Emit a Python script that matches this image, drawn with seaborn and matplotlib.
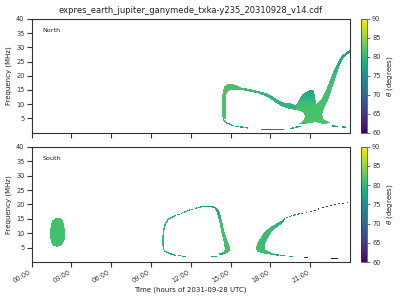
import numpy as np
import matplotlib
matplotlib.use("Agg")
import matplotlib.pyplot as plt
from matplotlib.path import Path
import seaborn as sns

# ---------------- data ----------------
TITLE = "expres_earth_jupiter_ganymede_txka-y235_20310928_v14.cdf"
PANELS = ["North", "South"]
TIME_TICKS = [0, 3, 6, 9, 12, 15, 18, 21]
TIME_LABELS = ["00:00", "03:00", "06:00", "09:00", "12:00", "15:00", "18:00", "21:00"]
FREQ_TICKS = [5, 10, 15, 20, 25, 30, 35, 40]
THETA_TICKS = [60, 65, 70, 75, 80, 85, 90]
XLABEL = "Time (hours of 2031-09-28 UTC)"
YLABEL = "Frequency (MHz)"
CLABEL = r"$\theta$ (degrees)"

# North: arc (time h, freq MHz)
N_ARC_T = [14.38, 14.36, 14.38, 14.5, 14.73, 15.1, 15.48, 15.71, 16.31, 17.07, 17.6, 17.97, 18.43, 18.88, 19.48, 19.95,
           19.95, 19.48, 18.88, 18.43, 17.97, 17.6, 17.07, 16.31, 15.71, 15.33, 14.95, 14.77, 14.65, 14.62]
N_ARC_F = [5.0, 10.0, 14.3, 16.1, 17.0, 17.1, 16.6, 15.9, 15.4, 14.6, 14.0, 13.3, 11.9, 10.7, 10.3, 9.7,
           8.0, 8.3, 9.2, 10.4, 12.0, 12.9, 13.8, 14.5, 15.0, 15.0, 14.8, 14.3, 13.3, 5.0]
N_ARC_THETA_T = [14.4, 15.5, 17.5, 19.5]
N_ARC_THETA = [81.5, 81.0, 79.5, 79.5]

# North: main blob + rising branch
N_BLOB_T = [19.93, 20.5, 21.0, 21.48, 21.67, 21.9, 22.2, 22.5, 22.8, 23.1, 23.4, 23.7, 24.0, 24.0, 23.74, 23.48, 23.21,
            22.95, 22.65, 22.35, 22.04, 21.9, 21.97, 22.28, 22.65, 21.9, 21.37, 20.61, 20.08, 20.45, 20.61, 20.54,
            20.23, 19.93]
N_BLOB_F = [9.7, 10.5, 10.3, 10.1, 10.8, 12.2, 15.0, 18.5, 22.1, 24.9, 27.0, 28.4, 29.3, 28.2, 27.3, 25.9, 23.5,
            19.9, 15.7, 11.5, 8.7, 6.6, 4.8, 4.1, 3.4, 3.2, 3.8, 3.2, 3.1, 4.1, 5.5, 6.9,
            7.6, 8.0]
N_BLOB_THETA_F = [3, 18, 24, 29]
N_BLOB_THETA = [81.5, 81.0, 79.0, 77.0]

# North: hump on the blob
N_HUMP_T = [19.9, 20.16, 20.38, 20.69, 20.99, 21.22, 21.33, 21.4, 21.48, 21.0, 20.5, 19.93]
N_HUMP_F = [9.6, 11.5, 13.3, 14.3, 15.0, 14.8, 13.6, 11.5, 10.1, 9.5, 9.0, 8.8]
N_HUMP_THETA_F = [9.5, 15]
N_HUMP_THETA = [81.0, 77.5]

# North: continuous thin tail below the arc
N_TAIL_T = [14.42, 14.5, 14.7, 14.95, 15.2]
N_TAIL_F = [5.2, 4.2, 3.5, 3.0, 2.6]
N_TAIL_THETA = [80.5, 80, 78.5, 77, 77]

# North: short dashes (t0, t1, f0, f1, theta)
N_DASH_T0 = [15.33, 15.71, 16.09, 17.29, 19.48, 19.86, 22.65, 23.40]
N_DASH_T1 = [15.56, 15.94, 16.31, 18.95, 19.78, 20.23, 23.02, 23.63]
N_DASH_F0 = [2.36, 2.10, 1.80, 1.30, 1.65, 2.00, 2.46, 2.10]
N_DASH_F1 = [2.30, 2.05, 1.75, 1.30, 1.75, 2.20, 2.35, 2.05]
N_DASH_THETA = [77, 77, 77, 71.5, 77, 77.5, 77, 77]

# South: oval near 02:00
S_OVAL_T = [1.38, 1.40, 1.55, 1.8, 2.2, 2.35, 2.42, 2.5, 2.5, 2.4, 2.2, 1.9, 1.6, 1.42]
S_OVAL_F = [8.5, 12.5, 14.5, 15.3, 15.3, 14.3, 12.3, 11.5, 8.5, 7.0, 5.8, 5.3, 5.6, 7.0]
S_OVAL_THETA = 81.0

# South: loop, thick right side
S_LOOPR_T = [13.6, 13.95, 14.2, 14.35, 14.55, 14.75, 14.95, 14.95, 14.75, 14.4, 14.05, 14.1, 14.45, 14.55, 14.45,
             14.3, 14.15, 14.0, 13.8, 13.6]
S_LOOPR_F = [19.25, 18.9, 17.0, 14.0, 10.0, 7.5, 5.0, 4.0, 3.1, 2.6, 2.3, 2.9, 3.6, 4.5, 7.5,
             10.0, 13.5, 16.5, 18.6, 18.9]
S_LOOPR_THETA_F = [2, 4, 14, 18, 19.5]
S_LOOPR_THETA = [78, 81, 81, 78, 76.5]

# South: loop, thin left side (solid / dotted / solid)
S_LOOPL_T = [9.92, 9.88, 9.92, 10.05, 10.3, 10.7]
S_LOOPL_F = [4.6, 7.0, 10.5, 13.2, 14.9, 15.9]
S_LOOPL_THETA = [80.5, 80.5, 80, 79, 78, 77]
S_LOOPTOP_T = [10.7, 11.3, 11.9, 12.5, 12.65]
S_LOOPTOP_F = [15.9, 17.0, 18.1, 18.9, 19.05]
S_LOOPTOP_THETA = [77, 76.5, 76.5, 76.5, 76.5]
S_LOOPCAP_T = [12.65, 12.9, 13.4, 13.7]
S_LOOPCAP_F = [19.05, 19.3, 19.4, 19.2]
S_LOOPCAP_THETA = [76.5, 76.5, 76.5, 76.5]
S_LOOPBOT_T = [9.92, 10.0, 10.3, 10.6, 10.8]
S_LOOPBOT_F = [4.6, 3.8, 3.1, 2.6, 2.4]
S_LOOPBOT_THETA = [80.5, 80, 78, 77, 77]

# South: "<" shaped band after 17:00
S_WEDGE_T = [16.92, 16.95, 17.2, 17.6, 18.1, 18.6, 19.0, 19.05, 18.7, 18.3, 17.9, 17.65, 17.55, 17.6, 17.9, 18.25,
             18.2, 17.8, 17.3, 17.0]
S_WEDGE_F = [4.3, 5.8, 8.2, 10.8, 12.5, 13.8, 14.8, 14.2, 12.8, 11.5, 9.3, 7.0, 5.5, 4.4, 3.5, 2.9,
             2.5, 2.7, 3.2, 3.6]
S_WEDGE_THETA_T = [17.0, 18.5, 19.1]
S_WEDGE_THETA = [81, 80, 78]

# South: thin continuation of the wedge (teal dashes then purple dots)
S_ARM_T = [18.9, 19.23, 19.73, 20.36]
S_ARM_F = [14.5, 15.5, 16.3, 16.9]
S_ARM_THETA = [77, 75, 73, 72]
S_DOTS_T = [20.36, 20.99, 21.74, 22.37, 23.0, 23.25, 23.88, 24.0]
S_DOTS_F = [16.9, 17.4, 18.6, 19.4, 20.1, 20.3, 20.7, 20.75]
S_DOTS_THETA = [70, 65, 64.5, 64, 64, 65, 67, 67]

# South: short dashes (t0, t1, f0, f1, theta)
S_DASH_T0 = [11.05, 11.39, 13.57, 18.20, 18.73, 19.43, 20.60, 22.62, 22.85]
S_DASH_T1 = [11.23, 11.56, 13.95, 18.60, 19.03, 19.68, 20.78, 22.78, 23.05]
S_DASH_F0 = [2.18, 1.94, 1.94, 2.50, 2.20, 1.95, 1.50, 1.15, 1.15]
S_DASH_F1 = [2.15, 1.90, 2.00, 2.45, 2.15, 1.90, 1.50, 1.15, 1.15]
S_DASH_THETA = [77, 77, 77, 77, 77, 77, 64, 61, 61]

# ---------------- raster grid ----------------
NT, NF = 318, 115
T_EDGES = np.linspace(0, 24, NT + 1)
F_EDGES = np.linspace(0, 40, NF + 1)
TC = 0.5 * (T_EDGES[:-1] + T_EDGES[1:])
FC = 0.5 * (F_EDGES[:-1] + F_EDGES[1:])
TT, FF = np.meshgrid(TC, FC)
PX_T, PX_F = NT / 24.0, NF / 40.0   # pixels per hour / per MHz


def paint_polygon(grid, t, f, knots, vals, axis="f"):
    path = Path(np.column_stack([t, f]))
    inside = path.contains_points(np.column_stack([TT.ravel(), FF.ravel()])).reshape(TT.shape)
    coord = FF if axis == "f" else TT
    th = np.interp(coord, knots, vals)
    grid[inside] = th[inside]


def paint_line(grid, t, f, theta, width=1.3, dash=None):
    X, Y = TT * PX_T, FF * PX_F
    px, py = np.asarray(t) * PX_T, np.asarray(f) * PX_F
    best = np.full(TT.shape, np.inf)
    s_best = np.zeros(TT.shape)
    cum = 0.0
    for i in range(len(px) - 1):
        dx, dy = px[i + 1] - px[i], py[i + 1] - py[i]
        L = np.hypot(dx, dy)
        if L == 0:
            continue
        u = np.clip(((X - px[i]) * dx + (Y - py[i]) * dy) / (L * L), 0, 1)
        d = np.hypot(X - (px[i] + u * dx), Y - (py[i] + u * dy))
        m = d < best
        best[m] = d[m]
        s_best[m] = cum + u[m] * L
        cum += L
    mask = best <= width / 2
    if dash is not None:
        on, off = dash
        mask &= (s_best % (on + off)) < on
    th = np.interp(TT, t, theta)
    grid[mask] = th[mask]


def paint_dashes(grid, t0, t1, f0, f1, theta, width=1.2):
    for a, b, c, d, th in zip(t0, t1, f0, f1, theta):
        paint_line(grid, [a, b], [c, d], [th, th], width=width)


north = np.full(TT.shape, np.nan)
paint_polygon(north, N_ARC_T, N_ARC_F, N_ARC_THETA_T, N_ARC_THETA, axis="t")
paint_polygon(north, N_BLOB_T, N_BLOB_F, N_BLOB_THETA_F, N_BLOB_THETA, axis="f")
paint_polygon(north, N_HUMP_T, N_HUMP_F, N_HUMP_THETA_F, N_HUMP_THETA, axis="f")
paint_line(north, N_TAIL_T, N_TAIL_F, N_TAIL_THETA)
paint_dashes(north, N_DASH_T0, N_DASH_T1, N_DASH_F0, N_DASH_F1, N_DASH_THETA)

south = np.full(TT.shape, np.nan)
paint_polygon(south, S_OVAL_T, S_OVAL_F, [0, 40], [S_OVAL_THETA, S_OVAL_THETA])
paint_polygon(south, S_LOOPR_T, S_LOOPR_F, S_LOOPR_THETA_F, S_LOOPR_THETA, axis="f")
paint_line(south, S_LOOPL_T, S_LOOPL_F, S_LOOPL_THETA, width=1.5)
paint_line(south, S_LOOPTOP_T, S_LOOPTOP_F, S_LOOPTOP_THETA, width=1.2, dash=(2.5, 1.2))
paint_line(south, S_LOOPCAP_T, S_LOOPCAP_F, S_LOOPCAP_THETA, width=1.2)
paint_line(south, S_LOOPBOT_T, S_LOOPBOT_F, S_LOOPBOT_THETA, width=1.3)
paint_polygon(south, S_WEDGE_T, S_WEDGE_F, S_WEDGE_THETA_T, S_WEDGE_THETA, axis="t")
paint_line(south, S_ARM_T, S_ARM_F, S_ARM_THETA, width=1.2, dash=(3.0, 1.0))
paint_line(south, S_DOTS_T, S_DOTS_F, S_DOTS_THETA, width=1.1, dash=(1.6, 2.6))
paint_dashes(south, S_DASH_T0, S_DASH_T1, S_DASH_F0, S_DASH_F1, S_DASH_THETA)

# ---------------- figure ----------------
sns.set_style("ticks", rc={
    "axes.edgecolor": "#333333",
    "axes.linewidth": 0.5,
    "xtick.major.width": 0.5,
    "ytick.major.width": 0.5,
    "xtick.major.size": 1.8,
    "ytick.major.size": 1.8,
    "xtick.color": "#333333",
    "ytick.color": "#333333",
    "text.color": "#222222",
    "axes.labelcolor": "#222222",
})
plt.rcParams["font.family"] = ["DejaVu Sans"]
cmap = sns.color_palette("viridis", as_cmap=True)

fig = plt.figure(figsize=(4, 3), dpi=100)
ax_pos = [[0.079, 0.558, 0.796, 0.379], [0.079, 0.126, 0.796, 0.385]]
cb_pos = [[0.902, 0.558, 0.0167, 0.379], [0.902, 0.126, 0.0167, 0.385]]

for i, (name, grid) in enumerate(zip(PANELS, [north, south])):
    ax = fig.add_axes(ax_pos[i])
    mesh = ax.pcolormesh(T_EDGES, F_EDGES, np.ma.masked_invalid(grid), cmap=cmap,
                         vmin=THETA_TICKS[0], vmax=THETA_TICKS[-1], shading="flat", rasterized=True)
    ax.set_xlim(0, 24)
    ax.set_ylim(0, 40)
    ax.set_yticks(FREQ_TICKS)
    ax.set_xticks(TIME_TICKS)
    ax.tick_params(labelsize=4.8, pad=1.5)
    ax.set_ylabel(YLABEL, fontsize=5, labelpad=3)
    ax.text(0.035, 0.895, name, transform=ax.transAxes, fontsize=4.6, va="center", ha="left")
    if i == 0:
        ax.set_xticklabels([])
        ax.set_title(TITLE, fontsize=6, pad=4)
    else:
        ax.set_xticklabels(TIME_LABELS, rotation=30, ha="right")
        ax.set_xlabel(XLABEL, fontsize=5, labelpad=2)
    cax = fig.add_axes(cb_pos[i])
    cb = fig.colorbar(mesh, cax=cax, ticks=THETA_TICKS)
    cb.outline.set_linewidth(0.5)
    cb.outline.set_edgecolor("#333333")
    cax.tick_params(labelsize=4.8, width=0.5, length=1.8, pad=1.5)
    cb.set_label(CLABEL, fontsize=5, labelpad=3)

fig.savefig("out.png", dpi=100)
